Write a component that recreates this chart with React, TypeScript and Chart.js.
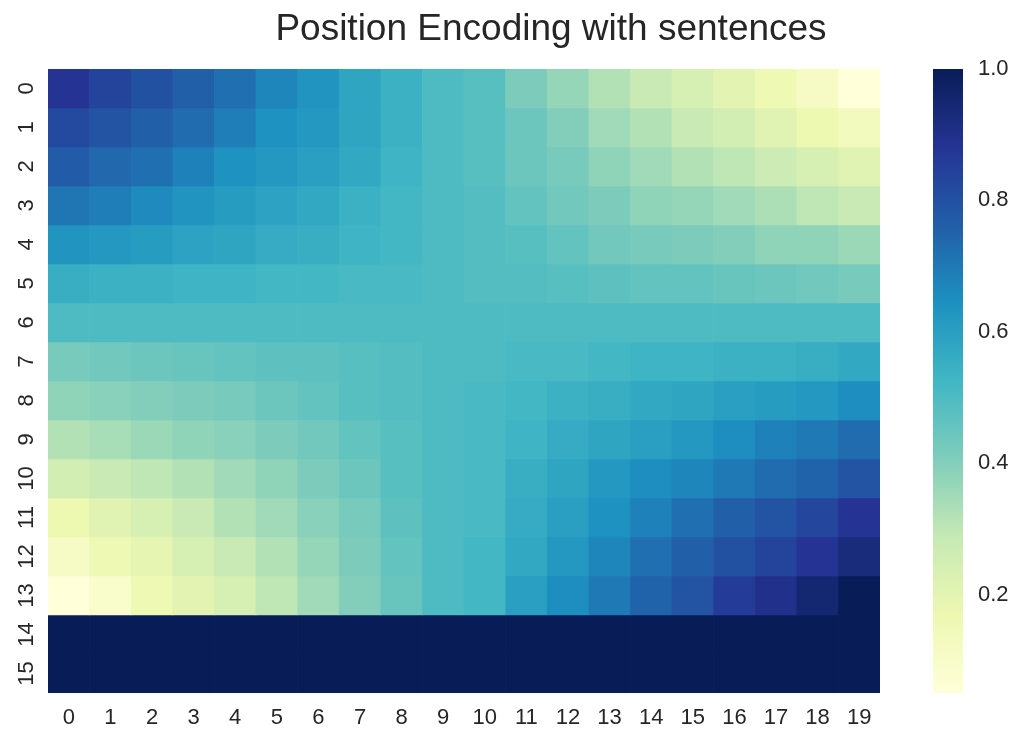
import React, { useEffect, useRef } from 'react';
import { Chart, registerables } from 'chart.js';

Chart.register(...registerables);

const TITLE = 'Position Encoding with sentences';

const colLabels = ['0', '1', '2', '3', '4', '5', '6', '7', '8', '9', '10', '11', '12', '13', '14', '15', '16', '17', '18', '19'];
const rowLabels = ['0', '1', '2', '3', '4', '5', '6', '7', '8', '9', '10', '11', '12', '13', '14', '15'];

const row0 = [0.88, 0.84, 0.80, 0.76, 0.72, 0.67, 0.63, 0.58, 0.54, 0.50, 0.48, 0.41, 0.37, 0.32, 0.28, 0.24, 0.20, 0.16, 0.11, 0.05];
const row1 = [0.82, 0.79, 0.76, 0.73, 0.69, 0.64, 0.62, 0.58, 0.54, 0.50, 0.48, 0.44, 0.40, 0.35, 0.32, 0.28, 0.25, 0.21, 0.17, 0.13];
const row2 = [0.77, 0.74, 0.72, 0.68, 0.64, 0.62, 0.60, 0.57, 0.53, 0.50, 0.48, 0.44, 0.42, 0.38, 0.35, 0.32, 0.30, 0.27, 0.24, 0.21];
const row3 = [0.71, 0.69, 0.66, 0.63, 0.61, 0.59, 0.57, 0.54, 0.52, 0.50, 0.49, 0.46, 0.43, 0.41, 0.38, 0.37, 0.35, 0.33, 0.30, 0.28];
const row4 = [0.63, 0.62, 0.61, 0.59, 0.58, 0.56, 0.55, 0.53, 0.52, 0.50, 0.49, 0.48, 0.46, 0.43, 0.42, 0.41, 0.40, 0.38, 0.38, 0.36];
const row5 = [0.55, 0.54, 0.54, 0.53, 0.53, 0.52, 0.52, 0.51, 0.51, 0.50, 0.49, 0.49, 0.48, 0.47, 0.46, 0.46, 0.45, 0.44, 0.43, 0.42];
const row6 = [0.50, 0.50, 0.50, 0.50, 0.50, 0.50, 0.50, 0.50, 0.50, 0.50, 0.50, 0.50, 0.50, 0.50, 0.50, 0.50, 0.50, 0.50, 0.50, 0.50];
const row7 = [0.42, 0.43, 0.44, 0.45, 0.46, 0.47, 0.47, 0.48, 0.49, 0.50, 0.50, 0.51, 0.51, 0.52, 0.53, 0.53, 0.54, 0.54, 0.55, 0.57];
const row8 = [0.38, 0.39, 0.40, 0.41, 0.42, 0.44, 0.46, 0.48, 0.49, 0.50, 0.51, 0.52, 0.54, 0.55, 0.57, 0.58, 0.60, 0.61, 0.62, 0.65];
const row9 = [0.32, 0.34, 0.36, 0.38, 0.39, 0.41, 0.43, 0.46, 0.48, 0.50, 0.51, 0.53, 0.56, 0.58, 0.60, 0.62, 0.65, 0.68, 0.70, 0.73];
const row10 = [0.25, 0.28, 0.30, 0.32, 0.35, 0.38, 0.41, 0.44, 0.48, 0.50, 0.51, 0.55, 0.58, 0.62, 0.65, 0.67, 0.70, 0.73, 0.75, 0.79];
const row11 = [0.17, 0.21, 0.24, 0.28, 0.32, 0.35, 0.39, 0.42, 0.47, 0.50, 0.51, 0.56, 0.60, 0.64, 0.68, 0.72, 0.76, 0.79, 0.83, 0.88];
const row12 = [0.11, 0.16, 0.19, 0.24, 0.28, 0.32, 0.37, 0.41, 0.46, 0.50, 0.52, 0.57, 0.62, 0.67, 0.72, 0.76, 0.80, 0.84, 0.88, 0.93];
const row13 = [0.05, 0.09, 0.16, 0.20, 0.24, 0.30, 0.35, 0.40, 0.45, 0.50, 0.52, 0.60, 0.65, 0.70, 0.75, 0.79, 0.86, 0.90, 0.95, 1.00];
const row14 = [1.0, 1.0, 1.0, 1.0, 1.0, 1.0, 1.0, 1.0, 1.0, 1.0, 1.0, 1.0, 1.0, 1.0, 1.0, 1.0, 1.0, 1.0, 1.0, 1.0];
const row15 = [1.0, 1.0, 1.0, 1.0, 1.0, 1.0, 1.0, 1.0, 1.0, 1.0, 1.0, 1.0, 1.0, 1.0, 1.0, 1.0, 1.0, 1.0, 1.0, 1.0];

const values = [row0, row1, row2, row3, row4, row5, row6, row7, row8, row9, row10, row11, row12, row13, row14, row15];

const colorbarTicks = [0.2, 0.4, 0.6, 0.8, 1.0];

const YLGNBU = ['#ffffd9', '#edf8b1', '#c7e9b4', '#7fcdbb', '#41b6c4', '#1d91c0', '#225ea8', '#253494', '#081d58'];

const FONT_FAMILY = '"Liberation Sans", Arial, sans-serif';
const TEXT_COLOR = '#262626';
const TICK_SIZE = 22;

const allVals = values.flat();
const vmin = Math.min(...allVals);
const vmax = Math.max(...allVals);

function hexToRgb(h: string): number[] {
  return [parseInt(h.slice(1, 3), 16), parseInt(h.slice(3, 5), 16), parseInt(h.slice(5, 7), 16)];
}
const STOPS = YLGNBU.map(hexToRgb);

function colormap(v: number): string {
  let t = (v - vmin) / (vmax - vmin);
  t = Math.max(0, Math.min(1, t));
  const pos = t * (STOPS.length - 1);
  const i = Math.min(STOPS.length - 2, Math.floor(pos));
  const f = pos - i;
  const a = STOPS[i];
  const b = STOPS[i + 1];
  const c = a.map((x, k) => Math.round(x + (b[k] - x) * f));
  return `rgb(${c[0]},${c[1]},${c[2]})`;
}

const titlePlugin = {
  id: 'figTitle',
  afterDraw(chart: any) {
    const c = chart.ctx;
    c.save();
    c.font = `37px ${FONT_FAMILY}`;
    c.fillStyle = TEXT_COLOR;
    c.textAlign = 'center';
    c.textBaseline = 'alphabetic';
    c.fillText(TITLE, 551, 40);
    c.restore();
  },
};

export default function App() {
  const mainRef = useRef<HTMLCanvasElement>(null);
  const cbRef = useRef<HTMLCanvasElement>(null);

  useEffect(() => {
    if (!mainRef.current || !cbRef.current) return;

    const datasets = values.map((rowVals, r) => ({
      label: rowLabels[r],
      data: rowVals.map(() => [r, r + 1]),
      backgroundColor: rowVals.map((v) => colormap(v)),
      borderWidth: 0,
      barPercentage: 1,
      categoryPercentage: 1,
      grouped: false,
    }));

    const main = new Chart(mainRef.current, {
      type: 'bar',
      data: { labels: colLabels, datasets: datasets as any },
      options: {
        animation: false,
        responsive: false,
        maintainAspectRatio: false,
        layout: { padding: { top: 69, right: 144, left: 0, bottom: 0 } },
        plugins: {
          legend: { display: false },
          tooltip: { enabled: false },
          title: { display: false },
        },
        scales: {
          x: {
            type: 'category',
            grid: { display: false, drawTicks: false },
            border: { display: false },
            ticks: {
              color: TEXT_COLOR,
              font: { size: TICK_SIZE, family: FONT_FAMILY },
              padding: 12,
              maxRotation: 0,
              minRotation: 0,
              autoSkip: false,
            },
            afterFit: (s: any) => {
              s.height = 49;
            },
          },
          y: {
            type: 'linear',
            min: 0,
            max: 16,
            reverse: true,
            grid: { display: false, drawTicks: false },
            border: { display: false },
            afterBuildTicks: (s: any) => {
              s.ticks = rowLabels.map((_, i) => ({ value: i + 0.5 }));
            },
            ticks: {
              callback: (v: any) => rowLabels[Math.floor(Number(v))],
              minRotation: 90,
              maxRotation: 90,
              crossAlign: 'center',
              padding: 9,
              color: TEXT_COLOR,
              font: { size: TICK_SIZE, family: FONT_FAMILY },
              autoSkip: false,
            },
            afterFit: (s: any) => {
              s.width = 48;
            },
          },
        },
      } as any,
      plugins: [titlePlugin],
    });

    const cb = new Chart(cbRef.current, {
      type: 'bar',
      data: {
        labels: [''],
        datasets: [
          {
            data: [[vmin, vmax]] as any,
            backgroundColor: (ctx: any) => {
              const chart = ctx.chart;
              const area = chart.chartArea;
              if (!area) return YLGNBU[4];
              const g = chart.ctx.createLinearGradient(0, area.bottom, 0, area.top);
              YLGNBU.forEach((col, i) => g.addColorStop(i / (YLGNBU.length - 1), col));
              return g;
            },
            borderWidth: 0,
            barPercentage: 1,
            categoryPercentage: 1,
          },
        ],
      },
      options: {
        animation: false,
        responsive: false,
        maintainAspectRatio: false,
        layout: { padding: { top: 69, bottom: 49, left: 8, right: 0 } },
        plugins: { legend: { display: false }, tooltip: { enabled: false } },
        scales: {
          x: { display: false },
          y: {
            position: 'right',
            min: vmin,
            max: vmax,
            grid: { display: false, drawTicks: false },
            border: { display: false },
            afterBuildTicks: (s: any) => {
              s.ticks = colorbarTicks.map((v) => ({ value: v }));
            },
            ticks: {
              callback: (v: any) => Number(v).toFixed(1),
              padding: 15,
              color: TEXT_COLOR,
              font: { size: TICK_SIZE, family: FONT_FAMILY },
            },
            afterFit: (s: any) => {
              s.width = 61;
            },
          },
        },
      } as any,
    });

    return () => {
      main.destroy();
      cb.destroy();
    };
  }, []);

  return (
    <div style={{ position: 'fixed', left: 0, top: 0, width: 1024, height: 742, background: '#fff' }}>
      <canvas ref={mainRef} width={1024} height={742} style={{ position: 'absolute', left: 0, top: 0, width: 1024, height: 742 }} />
      <canvas ref={cbRef} width={99} height={742} style={{ position: 'absolute', left: 925, top: 0, width: 99, height: 742 }} />
    </div>
  );
}
